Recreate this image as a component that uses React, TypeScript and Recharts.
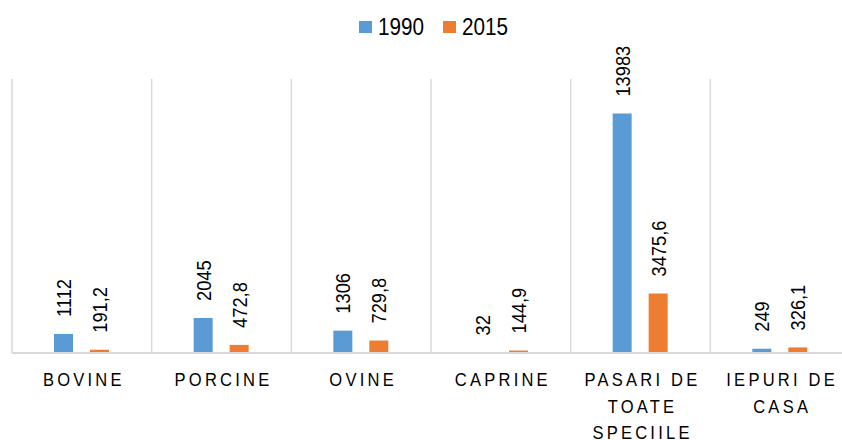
import React from 'react'
import { BarChart, Bar, XAxis, YAxis, CartesianGrid, Legend, LabelList } from 'recharts'

const categories = ['BOVINE', 'PORCINE', 'OVINE', 'CAPRINE', 'PASARI DE\nTOATE\nSPECIILE', 'IEPURI DE\nCASA']
const values1990 = [1112, 2045, 1306, 32, 13983, 249]
const values2015 = [191.2, 472.8, 729.8, 144.9, 3475.6, 326.1]
const seriesNames = ['1990', '2015']

const BLUE = '#5B9BD5'
const ORANGE = '#ED7D31'
const GRID = '#D9D9D9'
const FONT = '"Liberation Sans", Arial, sans-serif'

const data = categories.map((name, i) => ({
  name,
  y1990: values1990[i],
  y2015: values2015[i],
}))

const fmt = (v: number) => String(v).replace('.', ',')

// rotated value label sitting ~17px above the bar top
function ValueLabel(props: any) {
  const { x, y, width, value } = props
  const cx = x + width / 2
  const cy = y - 17
  return (
    <text
      x={0}
      y={0}
      dy="0.36em"
      transform={`translate(${cx}, ${cy}) rotate(-90) scale(0.87, 1)`}
      textAnchor="start"
      fontFamily={FONT}
      fontSize={21}
      fill="#000"
    >
      {fmt(value)}
    </text>
  )
}

function CategoryTick(props: any) {
  const { x, payload } = props
  const lines = String(payload.value).split('\n')
  return (
    <g transform={`translate(${x + 2}, 0) scale(0.92, 1)`}>
      <text textAnchor="middle" fontFamily={FONT} fontSize={18} fill="#000" letterSpacing={3.5}>
        {lines.map((l, i) => (
          <tspan key={i} x={0} y={386.5 + i * 26.5}>
            {l}
          </tspan>
        ))}
      </text>
    </g>
  )
}

function LegendBox() {
  const items = [
    { label: seriesNames[0], color: BLUE },
    { label: seriesNames[1], color: ORANGE },
  ]
  return (
    <div style={{ display: 'flex', justifyContent: 'center', gap: 19, paddingLeft: 5, fontFamily: FONT, fontSize: 23 }}>
      {items.map((it) => (
        <div key={it.label} style={{ display: 'flex', alignItems: 'center' }}>
          <span style={{ width: 13, height: 12, background: it.color, display: 'inline-block', marginRight: 6 }} />
          <span
            style={{
              lineHeight: '26px',
              display: 'inline-block',
              transform: 'scaleX(0.9)',
              transformOrigin: 'left center',
              marginRight: -5,
            }}
          >
            {it.label}
          </span>
        </div>
      ))}
    </div>
  )
}

export default function App() {
  return (
    <div style={{ position: 'absolute', left: 0, top: 0, width: 842, height: 440, overflow: 'hidden', background: '#fff' }}>
      <BarChart
        width={850}
        height={440}
        data={data}
        margin={{ top: 79, right: 0, left: 12, bottom: 0 }}
        barSize={19}
        barGap={17}
      >
        <CartesianGrid
          horizontal={false}
          stroke={GRID}
          strokeWidth={1.5}
          verticalCoordinatesGenerator={({ offset }: any) =>
            categories.map((_, i) => offset.left + (i * offset.width) / categories.length).concat([offset.left + offset.width])
          }
        />
        <XAxis
          dataKey="name"
          height={87}
          interval={0}
          tickLine={false}
          axisLine={{ stroke: GRID, strokeWidth: 2 }}
          tick={<CategoryTick />}
        />
        <YAxis hide domain={[0, 16000]} />
        <Legend
          layout="horizontal"
          verticalAlign="middle"
          align="center"
          wrapperStyle={{ top: 14 }}
          content={<LegendBox />}
        />
        <Bar dataKey="y1990" name={seriesNames[0]} fill={BLUE} isAnimationActive={false}>
          <LabelList dataKey="y1990" content={<ValueLabel />} />
        </Bar>
        <Bar dataKey="y2015" name={seriesNames[1]} fill={ORANGE} isAnimationActive={false}>
          <LabelList dataKey="y2015" content={<ValueLabel />} />
        </Bar>
      </BarChart>
    </div>
  )
}
